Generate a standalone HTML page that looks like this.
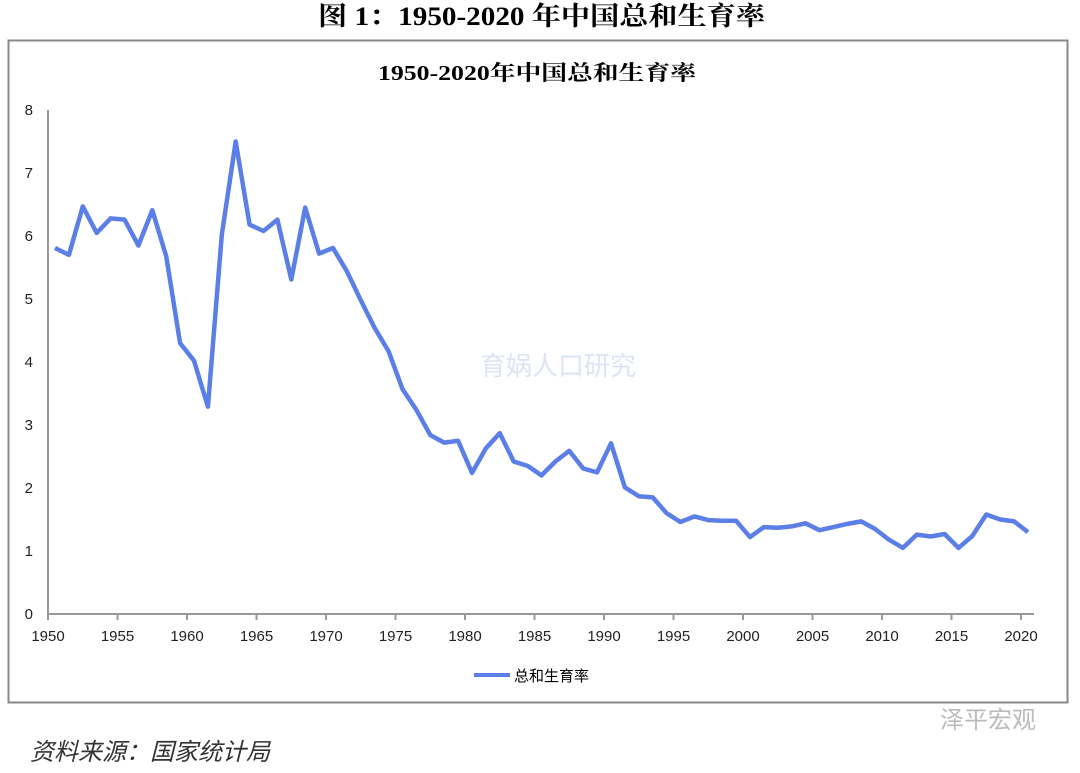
<!DOCTYPE html><html><head><meta charset="utf-8"><style>body{margin:0;background:#fff;width:1080px;height:768px;overflow:hidden}</style></head><body>
<svg width="1080" height="768" xmlns="http://www.w3.org/2000/svg" font-family="Liberation Sans, Noto Sans CJK SC, sans-serif">
<text x="318" y="25" textLength="447" lengthAdjust="spacingAndGlyphs" font-size="26" font-family="Liberation Serif, Noto Serif CJK SC, serif" font-weight="bold">图 1：1950-2020 年中国总和生育率</text>
<rect x="8.5" y="40.5" width="1059" height="662" fill="none" stroke="#888" stroke-width="2"/>
<text x="378" y="80" textLength="318" lengthAdjust="spacingAndGlyphs" font-size="21" font-weight="bold" font-family="Liberation Serif, Noto Serif CJK SC, serif">1950-2020年中国总和生育率</text>
<g stroke="#999" stroke-width="2"><line x1="48" y1="110" x2="48" y2="615"/><line x1="48" y1="614" x2="1034" y2="614"/></g>
<g font-size="15" fill="#222" text-anchor="end">
<text x="33" y="619">0</text><text x="33" y="556">1</text><text x="33" y="493">2</text><text x="33" y="430">3</text><text x="33" y="367">4</text><text x="33" y="304">5</text><text x="33" y="241">6</text><text x="33" y="178">7</text><text x="33" y="115">8</text></g>
<g stroke="#999" stroke-width="2" id="t"></g>
<g font-size="15" fill="#222" text-anchor="middle" id="xl"></g>
<polyline id="ln" fill="none" stroke="#5b7fe6" stroke-width="4.5" stroke-linejoin="round"/>
<line x1="474" y1="675" x2="510" y2="675" stroke="#5b7fe6" stroke-width="4"/>
<text x="514" y="681" font-size="15">总和生育率</text>
<text x="30" y="760" font-size="24" font-style="italic" fill="#333">资料来源：国家统计局</text>
<text x="940" y="728" font-size="24" fill="#bbb">泽平宏观</text>
<text x="480" y="375" font-size="26" fill="#dde4f5">育娲人口研究</text>
</svg>
<script>
var d=[5.81,5.70,6.47,6.05,6.28,6.26,5.85,6.41,5.68,4.30,4.02,3.29,6.02,7.50,6.18,6.08,6.26,5.31,6.45,5.72,5.81,5.44,4.98,4.54,4.17,3.57,3.24,2.84,2.72,2.75,2.24,2.63,2.87,2.42,2.35,2.20,2.42,2.59,2.31,2.25,2.71,2.01,1.87,1.85,1.60,1.46,1.55,1.49,1.48,1.48,1.22,1.38,1.37,1.39,1.44,1.33,1.38,1.43,1.47,1.35,1.18,1.05,1.26,1.23,1.27,1.05,1.24,1.58,1.50,1.47,1.30];
var p=d.map(function(v,i){return (55+i*13.9).toFixed(1)+","+(614-v*63).toFixed(1)}).join(" ");
document.getElementById("ln").setAttribute("points",p);
var t="",x="";for(var y=1950;y<=2020;y+=5){var px=48+(y-1950)*13.9;t+='<line x1="'+px+'" y1="614" x2="'+px+'" y2="620"/>';x+='<text x="'+px+'" y="641">'+y+'</text>';}
document.getElementById("t").innerHTML=t;document.getElementById("xl").innerHTML=x;
</script>
</body></html>
